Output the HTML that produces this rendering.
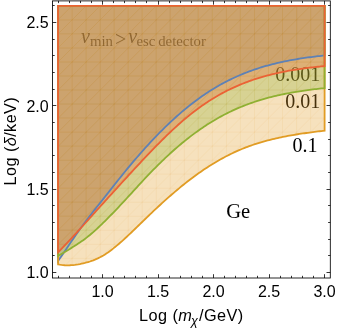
<!DOCTYPE html>
<html><head><meta charset="utf-8"><style>
html,body{margin:0;padding:0;background:#fff;}
svg{display:block;will-change:transform;opacity:0.999}
text{font-family:"Liberation Sans",sans-serif;}
.s{font-family:"Liberation Serif",serif;}
</style></head><body>
<svg width="337" height="331" viewBox="0 0 337 331">
<defs><clipPath id="c_yellow"><path d="M58.08 264.42 L59.76 264.71 L61.43 264.94 L63.11 265.11 L64.78 265.23 L66.46 265.29 L68.14 265.30 L69.81 265.26 L71.49 265.18 L73.17 265.04 L74.84 264.87 L76.52 264.64 L78.19 264.38 L79.87 264.08 L81.55 263.73 L83.22 263.35 L84.90 262.94 L86.58 262.49 L88.25 262.01 L89.93 261.49 L91.60 260.92 L93.28 260.31 L94.96 259.65 L96.63 258.92 L98.31 258.14 L99.99 257.30 L101.66 256.40 L103.34 255.43 L105.01 254.39 L106.69 253.30 L108.37 252.15 L110.04 250.95 L111.72 249.69 L113.40 248.40 L115.07 247.05 L116.75 245.67 L118.42 244.25 L120.10 242.80 L121.78 241.32 L123.45 239.81 L125.13 238.28 L126.81 236.73 L128.48 235.16 L130.16 233.58 L131.83 231.98 L133.51 230.38 L135.19 228.76 L136.86 227.14 L138.54 225.51 L140.22 223.88 L141.89 222.25 L143.57 220.62 L145.24 218.99 L146.92 217.37 L148.60 215.76 L150.27 214.15 L151.95 212.56 L153.62 210.97 L155.30 209.39 L156.98 207.83 L158.65 206.27 L160.33 204.73 L162.01 203.19 L163.68 201.67 L165.36 200.16 L167.03 198.66 L168.71 197.18 L170.39 195.71 L172.06 194.25 L173.74 192.81 L175.42 191.38 L177.09 189.96 L178.77 188.57 L180.44 187.18 L182.12 185.82 L183.80 184.46 L185.47 183.13 L187.15 181.81 L188.83 180.51 L190.50 179.23 L192.18 177.96 L193.85 176.71 L195.53 175.48 L197.21 174.27 L198.88 173.08 L200.56 171.90 L202.24 170.75 L203.91 169.61 L205.59 168.49 L207.26 167.39 L208.94 166.31 L210.62 165.25 L212.29 164.20 L213.97 163.18 L215.65 162.18 L217.32 161.19 L219.00 160.23 L220.67 159.29 L222.35 158.36 L224.03 157.45 L225.70 156.57 L227.38 155.70 L229.06 154.85 L230.73 154.03 L232.41 153.22 L234.08 152.43 L235.76 151.66 L237.44 150.91 L239.11 150.18 L240.79 149.47 L242.46 148.78 L244.14 148.10 L245.82 147.45 L247.49 146.81 L249.17 146.19 L250.85 145.59 L252.52 145.01 L254.20 144.44 L255.87 143.89 L257.55 143.35 L259.23 142.83 L260.90 142.32 L262.58 141.83 L264.26 141.36 L265.93 140.89 L267.61 140.44 L269.28 140.01 L270.96 139.58 L272.64 139.17 L274.31 138.77 L275.99 138.39 L277.67 138.01 L279.34 137.65 L281.02 137.29 L282.69 136.95 L284.37 136.61 L286.05 136.29 L287.72 135.97 L289.40 135.66 L291.08 135.36 L292.75 135.07 L294.43 134.79 L296.10 134.51 L297.78 134.25 L299.46 133.98 L301.13 133.73 L302.81 133.48 L304.49 133.24 L306.16 133.00 L307.84 132.77 L309.51 132.54 L311.19 132.32 L312.87 132.10 L314.54 131.88 L316.22 131.67 L317.90 131.47 L319.57 131.26 L321.25 131.06 L322.92 130.86 L324.60 130.67 L324.60 5.84 L58.08 5.84 Z"/></clipPath><clipPath id="c_green"><path d="M58.08 256.02 L59.76 254.98 L61.43 253.96 L63.11 252.95 L64.78 251.94 L66.46 250.94 L68.14 249.93 L69.81 248.91 L71.49 247.89 L73.17 246.85 L74.84 245.79 L76.52 244.72 L78.19 243.62 L79.87 242.49 L81.55 241.34 L83.22 240.15 L84.90 238.92 L86.58 237.65 L88.25 236.33 L89.93 234.97 L91.60 233.56 L93.28 232.10 L94.96 230.61 L96.63 229.08 L98.31 227.51 L99.99 225.92 L101.66 224.31 L103.34 222.67 L105.01 221.02 L106.69 219.35 L108.37 217.66 L110.04 215.96 L111.72 214.25 L113.40 212.52 L115.07 210.78 L116.75 209.02 L118.42 207.26 L120.10 205.48 L121.78 203.69 L123.45 201.89 L125.13 200.08 L126.81 198.26 L128.48 196.44 L130.16 194.60 L131.83 192.77 L133.51 190.94 L135.19 189.10 L136.86 187.27 L138.54 185.44 L140.22 183.62 L141.89 181.80 L143.57 180.00 L145.24 178.20 L146.92 176.43 L148.60 174.66 L150.27 172.91 L151.95 171.18 L153.62 169.47 L155.30 167.77 L156.98 166.08 L158.65 164.42 L160.33 162.77 L162.01 161.14 L163.68 159.53 L165.36 157.94 L167.03 156.37 L168.71 154.81 L170.39 153.27 L172.06 151.76 L173.74 150.26 L175.42 148.78 L177.09 147.32 L178.77 145.88 L180.44 144.46 L182.12 143.06 L183.80 141.68 L185.47 140.33 L187.15 138.99 L188.83 137.67 L190.50 136.38 L192.18 135.10 L193.85 133.85 L195.53 132.61 L197.21 131.40 L198.88 130.21 L200.56 129.04 L202.24 127.89 L203.91 126.76 L205.59 125.65 L207.26 124.56 L208.94 123.49 L210.62 122.45 L212.29 121.42 L213.97 120.42 L215.65 119.43 L217.32 118.47 L219.00 117.52 L220.67 116.60 L222.35 115.69 L224.03 114.81 L225.70 113.94 L227.38 113.09 L229.06 112.27 L230.73 111.46 L232.41 110.67 L234.08 109.90 L235.76 109.14 L237.44 108.41 L239.11 107.69 L240.79 106.99 L242.46 106.31 L244.14 105.64 L245.82 104.99 L247.49 104.36 L249.17 103.74 L250.85 103.14 L252.52 102.55 L254.20 101.98 L255.87 101.43 L257.55 100.89 L259.23 100.36 L260.90 99.85 L262.58 99.35 L264.26 98.87 L265.93 98.40 L267.61 97.94 L269.28 97.49 L270.96 97.06 L272.64 96.64 L274.31 96.23 L275.99 95.83 L277.67 95.44 L279.34 95.06 L281.02 94.70 L282.69 94.34 L284.37 94.00 L286.05 93.66 L287.72 93.34 L289.40 93.02 L291.08 92.71 L292.75 92.42 L294.43 92.13 L296.10 91.84 L297.78 91.57 L299.46 91.30 L301.13 91.05 L302.81 90.79 L304.49 90.55 L306.16 90.31 L307.84 90.08 L309.51 89.86 L311.19 89.64 L312.87 89.43 L314.54 89.23 L316.22 89.03 L317.90 88.84 L319.57 88.65 L321.25 88.46 L322.92 88.29 L324.60 88.11 L324.60 5.84 L58.08 5.84 Z"/></clipPath><clipPath id="c_red"><path d="M58.08 252.32 L59.76 250.63 L61.43 248.91 L63.11 247.18 L64.78 245.43 L66.46 243.66 L68.14 241.88 L69.81 240.09 L71.49 238.28 L73.17 236.47 L74.84 234.64 L76.52 232.80 L78.19 230.95 L79.87 229.10 L81.55 227.24 L83.22 225.38 L84.90 223.51 L86.58 221.65 L88.25 219.78 L89.93 217.91 L91.60 216.04 L93.28 214.17 L94.96 212.31 L96.63 210.45 L98.31 208.59 L99.99 206.73 L101.66 204.87 L103.34 203.02 L105.01 201.17 L106.69 199.32 L108.37 197.47 L110.04 195.63 L111.72 193.79 L113.40 191.94 L115.07 190.10 L116.75 188.27 L118.42 186.43 L120.10 184.60 L121.78 182.76 L123.45 180.93 L125.13 179.10 L126.81 177.27 L128.48 175.45 L130.16 173.63 L131.83 171.81 L133.51 169.99 L135.19 168.18 L136.86 166.37 L138.54 164.57 L140.22 162.77 L141.89 160.98 L143.57 159.19 L145.24 157.41 L146.92 155.64 L148.60 153.88 L150.27 152.13 L151.95 150.38 L153.62 148.65 L155.30 146.92 L156.98 145.21 L158.65 143.51 L160.33 141.82 L162.01 140.15 L163.68 138.49 L165.36 136.84 L167.03 135.21 L168.71 133.60 L170.39 132.00 L172.06 130.42 L173.74 128.86 L175.42 127.32 L177.09 125.79 L178.77 124.29 L180.44 122.80 L182.12 121.34 L183.80 119.90 L185.47 118.48 L187.15 117.08 L188.83 115.70 L190.50 114.35 L192.18 113.03 L193.85 111.72 L195.53 110.44 L197.21 109.19 L198.88 107.96 L200.56 106.75 L202.24 105.57 L203.91 104.41 L205.59 103.27 L207.26 102.15 L208.94 101.06 L210.62 100.00 L212.29 98.95 L213.97 97.93 L215.65 96.93 L217.32 95.95 L219.00 94.99 L220.67 94.06 L222.35 93.14 L224.03 92.25 L225.70 91.38 L227.38 90.53 L229.06 89.70 L230.73 88.89 L232.41 88.09 L234.08 87.32 L235.76 86.57 L237.44 85.84 L239.11 85.12 L240.79 84.42 L242.46 83.74 L244.14 83.08 L245.82 82.43 L247.49 81.80 L249.17 81.19 L250.85 80.60 L252.52 80.02 L254.20 79.45 L255.87 78.90 L257.55 78.37 L259.23 77.85 L260.90 77.34 L262.58 76.85 L264.26 76.38 L265.93 75.91 L267.61 75.46 L269.28 75.02 L270.96 74.60 L272.64 74.19 L274.31 73.79 L275.99 73.40 L277.67 73.02 L279.34 72.66 L281.02 72.30 L282.69 71.96 L284.37 71.62 L286.05 71.30 L287.72 70.99 L289.40 70.68 L291.08 70.39 L292.75 70.10 L294.43 69.83 L296.10 69.56 L297.78 69.30 L299.46 69.05 L301.13 68.80 L302.81 68.57 L304.49 68.34 L306.16 68.12 L307.84 67.90 L309.51 67.69 L311.19 67.49 L312.87 67.30 L314.54 67.11 L316.22 66.93 L317.90 66.75 L319.57 66.58 L321.25 66.41 L322.92 66.25 L324.60 66.09 L324.60 5.84 L58.08 5.84 Z"/></clipPath></defs>
<rect width="337" height="331" fill="#fff"/>
<g class="s" font-size="20" fill="#000">
<text class="s" y="43"><tspan x="81" font-style="italic">v</tspan><tspan x="89.9" font-size="14.8" dy="3">min</tspan><tspan x="115.1" dy="-0.5">&gt;</tspan><tspan x="128.2" dy="-2.5" font-style="italic">v</tspan><tspan x="136.4" font-size="14.8" dy="3">esc</tspan><tspan x="158.2" font-size="14.8">detector</tspan></text>
<text class="s" x="275.3" y="80.5">0.001</text>
<text class="s" x="285.3" y="108.4">0.01</text>
<text class="s" x="292.5" y="152">0.1</text>
<text class="s" x="226.2" y="217.6" font-size="20.6">Ge</text>
</g>
<path d="M58.08 261.02 L59.76 258.59 L61.43 256.15 L63.11 253.68 L64.78 251.21 L66.46 248.73 L68.14 246.25 L69.81 243.77 L71.49 241.31 L73.17 238.87 L74.84 236.45 L76.52 234.05 L78.19 231.68 L79.87 229.34 L81.55 227.03 L83.22 224.74 L84.90 222.48 L86.58 220.25 L88.25 218.04 L89.93 215.85 L91.60 213.69 L93.28 211.55 L94.96 209.42 L96.63 207.30 L98.31 205.19 L99.99 203.09 L101.66 200.98 L103.34 198.87 L105.01 196.75 L106.69 194.63 L108.37 192.51 L110.04 190.38 L111.72 188.26 L113.40 186.13 L115.07 184.01 L116.75 181.90 L118.42 179.79 L120.10 177.69 L121.78 175.60 L123.45 173.52 L125.13 171.46 L126.81 169.41 L128.48 167.38 L130.16 165.37 L131.83 163.37 L133.51 161.39 L135.19 159.42 L136.86 157.47 L138.54 155.54 L140.22 153.62 L141.89 151.72 L143.57 149.84 L145.24 147.97 L146.92 146.12 L148.60 144.29 L150.27 142.48 L151.95 140.68 L153.62 138.90 L155.30 137.14 L156.98 135.40 L158.65 133.68 L160.33 131.97 L162.01 130.29 L163.68 128.63 L165.36 126.98 L167.03 125.36 L168.71 123.75 L170.39 122.17 L172.06 120.60 L173.74 119.06 L175.42 117.54 L177.09 116.04 L178.77 114.56 L180.44 113.10 L182.12 111.66 L183.80 110.24 L185.47 108.85 L187.15 107.48 L188.83 106.13 L190.50 104.80 L192.18 103.49 L193.85 102.20 L195.53 100.94 L197.21 99.70 L198.88 98.48 L200.56 97.28 L202.24 96.10 L203.91 94.95 L205.59 93.81 L207.26 92.70 L208.94 91.61 L210.62 90.54 L212.29 89.49 L213.97 88.47 L215.65 87.46 L217.32 86.47 L219.00 85.51 L220.67 84.57 L222.35 83.64 L224.03 82.74 L225.70 81.86 L227.38 80.99 L229.06 80.15 L230.73 79.32 L232.41 78.52 L234.08 77.73 L235.76 76.96 L237.44 76.21 L239.11 75.48 L240.79 74.76 L242.46 74.06 L244.14 73.38 L245.82 72.72 L247.49 72.07 L249.17 71.44 L250.85 70.83 L252.52 70.23 L254.20 69.65 L255.87 69.08 L257.55 68.53 L259.23 67.99 L260.90 67.47 L262.58 66.96 L264.26 66.46 L265.93 65.98 L267.61 65.51 L269.28 65.05 L270.96 64.61 L272.64 64.18 L274.31 63.76 L275.99 63.35 L277.67 62.95 L279.34 62.57 L281.02 62.19 L282.69 61.83 L284.37 61.48 L286.05 61.13 L287.72 60.80 L289.40 60.48 L291.08 60.16 L292.75 59.86 L294.43 59.56 L296.10 59.27 L297.78 58.99 L299.46 58.72 L301.13 58.46 L302.81 58.20 L304.49 57.95 L306.16 57.71 L307.84 57.48 L309.51 57.25 L311.19 57.03 L312.87 56.82 L314.54 56.61 L316.22 56.41 L317.90 56.21 L319.57 56.02 L321.25 55.84 L322.92 55.66 L324.60 55.49 L324.60 5.84 L58.08 5.84 Z" fill="#5E81B5" fill-opacity="0.3" stroke="none"/><path d="M58.08 264.42 L59.76 264.71 L61.43 264.94 L63.11 265.11 L64.78 265.23 L66.46 265.29 L68.14 265.30 L69.81 265.26 L71.49 265.18 L73.17 265.04 L74.84 264.87 L76.52 264.64 L78.19 264.38 L79.87 264.08 L81.55 263.73 L83.22 263.35 L84.90 262.94 L86.58 262.49 L88.25 262.01 L89.93 261.49 L91.60 260.92 L93.28 260.31 L94.96 259.65 L96.63 258.92 L98.31 258.14 L99.99 257.30 L101.66 256.40 L103.34 255.43 L105.01 254.39 L106.69 253.30 L108.37 252.15 L110.04 250.95 L111.72 249.69 L113.40 248.40 L115.07 247.05 L116.75 245.67 L118.42 244.25 L120.10 242.80 L121.78 241.32 L123.45 239.81 L125.13 238.28 L126.81 236.73 L128.48 235.16 L130.16 233.58 L131.83 231.98 L133.51 230.38 L135.19 228.76 L136.86 227.14 L138.54 225.51 L140.22 223.88 L141.89 222.25 L143.57 220.62 L145.24 218.99 L146.92 217.37 L148.60 215.76 L150.27 214.15 L151.95 212.56 L153.62 210.97 L155.30 209.39 L156.98 207.83 L158.65 206.27 L160.33 204.73 L162.01 203.19 L163.68 201.67 L165.36 200.16 L167.03 198.66 L168.71 197.18 L170.39 195.71 L172.06 194.25 L173.74 192.81 L175.42 191.38 L177.09 189.96 L178.77 188.57 L180.44 187.18 L182.12 185.82 L183.80 184.46 L185.47 183.13 L187.15 181.81 L188.83 180.51 L190.50 179.23 L192.18 177.96 L193.85 176.71 L195.53 175.48 L197.21 174.27 L198.88 173.08 L200.56 171.90 L202.24 170.75 L203.91 169.61 L205.59 168.49 L207.26 167.39 L208.94 166.31 L210.62 165.25 L212.29 164.20 L213.97 163.18 L215.65 162.18 L217.32 161.19 L219.00 160.23 L220.67 159.29 L222.35 158.36 L224.03 157.45 L225.70 156.57 L227.38 155.70 L229.06 154.85 L230.73 154.03 L232.41 153.22 L234.08 152.43 L235.76 151.66 L237.44 150.91 L239.11 150.18 L240.79 149.47 L242.46 148.78 L244.14 148.10 L245.82 147.45 L247.49 146.81 L249.17 146.19 L250.85 145.59 L252.52 145.01 L254.20 144.44 L255.87 143.89 L257.55 143.35 L259.23 142.83 L260.90 142.32 L262.58 141.83 L264.26 141.36 L265.93 140.89 L267.61 140.44 L269.28 140.01 L270.96 139.58 L272.64 139.17 L274.31 138.77 L275.99 138.39 L277.67 138.01 L279.34 137.65 L281.02 137.29 L282.69 136.95 L284.37 136.61 L286.05 136.29 L287.72 135.97 L289.40 135.66 L291.08 135.36 L292.75 135.07 L294.43 134.79 L296.10 134.51 L297.78 134.25 L299.46 133.98 L301.13 133.73 L302.81 133.48 L304.49 133.24 L306.16 133.00 L307.84 132.77 L309.51 132.54 L311.19 132.32 L312.87 132.10 L314.54 131.88 L316.22 131.67 L317.90 131.47 L319.57 131.26 L321.25 131.06 L322.92 130.86 L324.60 130.67 L324.60 5.84 L58.08 5.84 Z" fill="#E19C24" fill-opacity="0.3" stroke="none"/><path d="M58.08 256.02 L59.76 254.98 L61.43 253.96 L63.11 252.95 L64.78 251.94 L66.46 250.94 L68.14 249.93 L69.81 248.91 L71.49 247.89 L73.17 246.85 L74.84 245.79 L76.52 244.72 L78.19 243.62 L79.87 242.49 L81.55 241.34 L83.22 240.15 L84.90 238.92 L86.58 237.65 L88.25 236.33 L89.93 234.97 L91.60 233.56 L93.28 232.10 L94.96 230.61 L96.63 229.08 L98.31 227.51 L99.99 225.92 L101.66 224.31 L103.34 222.67 L105.01 221.02 L106.69 219.35 L108.37 217.66 L110.04 215.96 L111.72 214.25 L113.40 212.52 L115.07 210.78 L116.75 209.02 L118.42 207.26 L120.10 205.48 L121.78 203.69 L123.45 201.89 L125.13 200.08 L126.81 198.26 L128.48 196.44 L130.16 194.60 L131.83 192.77 L133.51 190.94 L135.19 189.10 L136.86 187.27 L138.54 185.44 L140.22 183.62 L141.89 181.80 L143.57 180.00 L145.24 178.20 L146.92 176.43 L148.60 174.66 L150.27 172.91 L151.95 171.18 L153.62 169.47 L155.30 167.77 L156.98 166.08 L158.65 164.42 L160.33 162.77 L162.01 161.14 L163.68 159.53 L165.36 157.94 L167.03 156.37 L168.71 154.81 L170.39 153.27 L172.06 151.76 L173.74 150.26 L175.42 148.78 L177.09 147.32 L178.77 145.88 L180.44 144.46 L182.12 143.06 L183.80 141.68 L185.47 140.33 L187.15 138.99 L188.83 137.67 L190.50 136.38 L192.18 135.10 L193.85 133.85 L195.53 132.61 L197.21 131.40 L198.88 130.21 L200.56 129.04 L202.24 127.89 L203.91 126.76 L205.59 125.65 L207.26 124.56 L208.94 123.49 L210.62 122.45 L212.29 121.42 L213.97 120.42 L215.65 119.43 L217.32 118.47 L219.00 117.52 L220.67 116.60 L222.35 115.69 L224.03 114.81 L225.70 113.94 L227.38 113.09 L229.06 112.27 L230.73 111.46 L232.41 110.67 L234.08 109.90 L235.76 109.14 L237.44 108.41 L239.11 107.69 L240.79 106.99 L242.46 106.31 L244.14 105.64 L245.82 104.99 L247.49 104.36 L249.17 103.74 L250.85 103.14 L252.52 102.55 L254.20 101.98 L255.87 101.43 L257.55 100.89 L259.23 100.36 L260.90 99.85 L262.58 99.35 L264.26 98.87 L265.93 98.40 L267.61 97.94 L269.28 97.49 L270.96 97.06 L272.64 96.64 L274.31 96.23 L275.99 95.83 L277.67 95.44 L279.34 95.06 L281.02 94.70 L282.69 94.34 L284.37 94.00 L286.05 93.66 L287.72 93.34 L289.40 93.02 L291.08 92.71 L292.75 92.42 L294.43 92.13 L296.10 91.84 L297.78 91.57 L299.46 91.30 L301.13 91.05 L302.81 90.79 L304.49 90.55 L306.16 90.31 L307.84 90.08 L309.51 89.86 L311.19 89.64 L312.87 89.43 L314.54 89.23 L316.22 89.03 L317.90 88.84 L319.57 88.65 L321.25 88.46 L322.92 88.29 L324.60 88.11 L324.60 5.84 L58.08 5.84 Z" fill="#8FB032" fill-opacity="0.3" stroke="none"/><path d="M58.08 252.32 L59.76 250.63 L61.43 248.91 L63.11 247.18 L64.78 245.43 L66.46 243.66 L68.14 241.88 L69.81 240.09 L71.49 238.28 L73.17 236.47 L74.84 234.64 L76.52 232.80 L78.19 230.95 L79.87 229.10 L81.55 227.24 L83.22 225.38 L84.90 223.51 L86.58 221.65 L88.25 219.78 L89.93 217.91 L91.60 216.04 L93.28 214.17 L94.96 212.31 L96.63 210.45 L98.31 208.59 L99.99 206.73 L101.66 204.87 L103.34 203.02 L105.01 201.17 L106.69 199.32 L108.37 197.47 L110.04 195.63 L111.72 193.79 L113.40 191.94 L115.07 190.10 L116.75 188.27 L118.42 186.43 L120.10 184.60 L121.78 182.76 L123.45 180.93 L125.13 179.10 L126.81 177.27 L128.48 175.45 L130.16 173.63 L131.83 171.81 L133.51 169.99 L135.19 168.18 L136.86 166.37 L138.54 164.57 L140.22 162.77 L141.89 160.98 L143.57 159.19 L145.24 157.41 L146.92 155.64 L148.60 153.88 L150.27 152.13 L151.95 150.38 L153.62 148.65 L155.30 146.92 L156.98 145.21 L158.65 143.51 L160.33 141.82 L162.01 140.15 L163.68 138.49 L165.36 136.84 L167.03 135.21 L168.71 133.60 L170.39 132.00 L172.06 130.42 L173.74 128.86 L175.42 127.32 L177.09 125.79 L178.77 124.29 L180.44 122.80 L182.12 121.34 L183.80 119.90 L185.47 118.48 L187.15 117.08 L188.83 115.70 L190.50 114.35 L192.18 113.03 L193.85 111.72 L195.53 110.44 L197.21 109.19 L198.88 107.96 L200.56 106.75 L202.24 105.57 L203.91 104.41 L205.59 103.27 L207.26 102.15 L208.94 101.06 L210.62 100.00 L212.29 98.95 L213.97 97.93 L215.65 96.93 L217.32 95.95 L219.00 94.99 L220.67 94.06 L222.35 93.14 L224.03 92.25 L225.70 91.38 L227.38 90.53 L229.06 89.70 L230.73 88.89 L232.41 88.09 L234.08 87.32 L235.76 86.57 L237.44 85.84 L239.11 85.12 L240.79 84.42 L242.46 83.74 L244.14 83.08 L245.82 82.43 L247.49 81.80 L249.17 81.19 L250.85 80.60 L252.52 80.02 L254.20 79.45 L255.87 78.90 L257.55 78.37 L259.23 77.85 L260.90 77.34 L262.58 76.85 L264.26 76.38 L265.93 75.91 L267.61 75.46 L269.28 75.02 L270.96 74.60 L272.64 74.19 L274.31 73.79 L275.99 73.40 L277.67 73.02 L279.34 72.66 L281.02 72.30 L282.69 71.96 L284.37 71.62 L286.05 71.30 L287.72 70.99 L289.40 70.68 L291.08 70.39 L292.75 70.10 L294.43 69.83 L296.10 69.56 L297.78 69.30 L299.46 69.05 L301.13 68.80 L302.81 68.57 L304.49 68.34 L306.16 68.12 L307.84 67.90 L309.51 67.69 L311.19 67.49 L312.87 67.30 L314.54 67.11 L316.22 66.93 L317.90 66.75 L319.57 66.58 L321.25 66.41 L322.92 66.25 L324.60 66.09 L324.60 5.84 L58.08 5.84 Z" fill="#EB6235" fill-opacity="0.3" stroke="none"/>
<path id="mesh" d="M72.11 5.84 V272.40 M58.08 19.87 H324.60 M86.13 5.84 V272.40 M58.08 33.90 H324.60 M100.16 5.84 V272.40 M58.08 47.93 H324.60 M114.19 5.84 V272.40 M58.08 61.96 H324.60 M128.22 5.84 V272.40 M58.08 75.99 H324.60 M142.24 5.84 V272.40 M58.08 90.02 H324.60 M156.27 5.84 V272.40 M58.08 104.05 H324.60 M170.30 5.84 V272.40 M58.08 118.08 H324.60 M184.33 5.84 V272.40 M58.08 132.11 H324.60 M198.35 5.84 V272.40 M58.08 146.13 H324.60 M212.38 5.84 V272.40 M58.08 160.16 H324.60 M226.41 5.84 V272.40 M58.08 174.19 H324.60 M240.44 5.84 V272.40 M58.08 188.22 H324.60 M254.46 5.84 V272.40 M58.08 202.25 H324.60 M268.49 5.84 V272.40 M58.08 216.28 H324.60 M282.52 5.84 V272.40 M58.08 230.31 H324.60 M296.55 5.84 V272.40 M58.08 244.34 H324.60 M310.57 5.84 V272.40 M58.08 258.37 H324.60 M-194.41 272.40 L72.11 5.84 M-180.39 272.40 L86.13 5.84 M-166.36 272.40 L100.16 5.84 M-152.33 272.40 L114.19 5.84 M-138.30 272.40 L128.22 5.84 M-124.28 272.40 L142.24 5.84 M-110.25 272.40 L156.27 5.84 M-96.22 272.40 L170.30 5.84 M-82.19 272.40 L184.33 5.84 M-68.17 272.40 L198.35 5.84 M-54.14 272.40 L212.38 5.84 M-40.11 272.40 L226.41 5.84 M-26.08 272.40 L240.44 5.84 M-12.06 272.40 L254.46 5.84 M1.97 272.40 L268.49 5.84 M16.00 272.40 L282.52 5.84 M30.03 272.40 L296.55 5.84 M44.05 272.40 L310.57 5.84 M58.08 272.40 L324.60 5.84 M72.11 272.40 L338.63 5.84 M86.13 272.40 L352.65 5.84 M100.16 272.40 L366.68 5.84 M114.19 272.40 L380.71 5.84 M128.22 272.40 L394.74 5.84 M142.24 272.40 L408.76 5.84 M156.27 272.40 L422.79 5.84 M170.30 272.40 L436.82 5.84 M184.33 272.40 L450.85 5.84 M198.35 272.40 L464.87 5.84 M212.38 272.40 L478.90 5.84 M226.41 272.40 L492.93 5.84 M240.44 272.40 L506.96 5.84 M254.46 272.40 L520.98 5.84 M268.49 272.40 L535.01 5.84 M282.52 272.40 L549.04 5.84 M296.55 272.40 L563.07 5.84 M310.57 272.40 L577.09 5.84" fill="none" stroke-width="0.8" clip-path="url(#c_yellow)" stroke="#E19C24" stroke-opacity="0.1"/><path d="M72.11 5.84 V272.40 M58.08 19.87 H324.60 M86.13 5.84 V272.40 M58.08 33.90 H324.60 M100.16 5.84 V272.40 M58.08 47.93 H324.60 M114.19 5.84 V272.40 M58.08 61.96 H324.60 M128.22 5.84 V272.40 M58.08 75.99 H324.60 M142.24 5.84 V272.40 M58.08 90.02 H324.60 M156.27 5.84 V272.40 M58.08 104.05 H324.60 M170.30 5.84 V272.40 M58.08 118.08 H324.60 M184.33 5.84 V272.40 M58.08 132.11 H324.60 M198.35 5.84 V272.40 M58.08 146.13 H324.60 M212.38 5.84 V272.40 M58.08 160.16 H324.60 M226.41 5.84 V272.40 M58.08 174.19 H324.60 M240.44 5.84 V272.40 M58.08 188.22 H324.60 M254.46 5.84 V272.40 M58.08 202.25 H324.60 M268.49 5.84 V272.40 M58.08 216.28 H324.60 M282.52 5.84 V272.40 M58.08 230.31 H324.60 M296.55 5.84 V272.40 M58.08 244.34 H324.60 M310.57 5.84 V272.40 M58.08 258.37 H324.60 M-194.41 272.40 L72.11 5.84 M-180.39 272.40 L86.13 5.84 M-166.36 272.40 L100.16 5.84 M-152.33 272.40 L114.19 5.84 M-138.30 272.40 L128.22 5.84 M-124.28 272.40 L142.24 5.84 M-110.25 272.40 L156.27 5.84 M-96.22 272.40 L170.30 5.84 M-82.19 272.40 L184.33 5.84 M-68.17 272.40 L198.35 5.84 M-54.14 272.40 L212.38 5.84 M-40.11 272.40 L226.41 5.84 M-26.08 272.40 L240.44 5.84 M-12.06 272.40 L254.46 5.84 M1.97 272.40 L268.49 5.84 M16.00 272.40 L282.52 5.84 M30.03 272.40 L296.55 5.84 M44.05 272.40 L310.57 5.84 M58.08 272.40 L324.60 5.84 M72.11 272.40 L338.63 5.84 M86.13 272.40 L352.65 5.84 M100.16 272.40 L366.68 5.84 M114.19 272.40 L380.71 5.84 M128.22 272.40 L394.74 5.84 M142.24 272.40 L408.76 5.84 M156.27 272.40 L422.79 5.84 M170.30 272.40 L436.82 5.84 M184.33 272.40 L450.85 5.84 M198.35 272.40 L464.87 5.84 M212.38 272.40 L478.90 5.84 M226.41 272.40 L492.93 5.84 M240.44 272.40 L506.96 5.84 M254.46 272.40 L520.98 5.84 M268.49 272.40 L535.01 5.84 M282.52 272.40 L549.04 5.84 M296.55 272.40 L563.07 5.84 M310.57 272.40 L577.09 5.84" fill="none" stroke-width="0.8" clip-path="url(#c_green)" stroke="#8FB032" stroke-opacity="0.1"/><path d="M72.11 5.84 V272.40 M58.08 19.87 H324.60 M86.13 5.84 V272.40 M58.08 33.90 H324.60 M100.16 5.84 V272.40 M58.08 47.93 H324.60 M114.19 5.84 V272.40 M58.08 61.96 H324.60 M128.22 5.84 V272.40 M58.08 75.99 H324.60 M142.24 5.84 V272.40 M58.08 90.02 H324.60 M156.27 5.84 V272.40 M58.08 104.05 H324.60 M170.30 5.84 V272.40 M58.08 118.08 H324.60 M184.33 5.84 V272.40 M58.08 132.11 H324.60 M198.35 5.84 V272.40 M58.08 146.13 H324.60 M212.38 5.84 V272.40 M58.08 160.16 H324.60 M226.41 5.84 V272.40 M58.08 174.19 H324.60 M240.44 5.84 V272.40 M58.08 188.22 H324.60 M254.46 5.84 V272.40 M58.08 202.25 H324.60 M268.49 5.84 V272.40 M58.08 216.28 H324.60 M282.52 5.84 V272.40 M58.08 230.31 H324.60 M296.55 5.84 V272.40 M58.08 244.34 H324.60 M310.57 5.84 V272.40 M58.08 258.37 H324.60 M-194.41 272.40 L72.11 5.84 M-180.39 272.40 L86.13 5.84 M-166.36 272.40 L100.16 5.84 M-152.33 272.40 L114.19 5.84 M-138.30 272.40 L128.22 5.84 M-124.28 272.40 L142.24 5.84 M-110.25 272.40 L156.27 5.84 M-96.22 272.40 L170.30 5.84 M-82.19 272.40 L184.33 5.84 M-68.17 272.40 L198.35 5.84 M-54.14 272.40 L212.38 5.84 M-40.11 272.40 L226.41 5.84 M-26.08 272.40 L240.44 5.84 M-12.06 272.40 L254.46 5.84 M1.97 272.40 L268.49 5.84 M16.00 272.40 L282.52 5.84 M30.03 272.40 L296.55 5.84 M44.05 272.40 L310.57 5.84 M58.08 272.40 L324.60 5.84 M72.11 272.40 L338.63 5.84 M86.13 272.40 L352.65 5.84 M100.16 272.40 L366.68 5.84 M114.19 272.40 L380.71 5.84 M128.22 272.40 L394.74 5.84 M142.24 272.40 L408.76 5.84 M156.27 272.40 L422.79 5.84 M170.30 272.40 L436.82 5.84 M184.33 272.40 L450.85 5.84 M198.35 272.40 L464.87 5.84 M212.38 272.40 L478.90 5.84 M226.41 272.40 L492.93 5.84 M240.44 272.40 L506.96 5.84 M254.46 272.40 L520.98 5.84 M268.49 272.40 L535.01 5.84 M282.52 272.40 L549.04 5.84 M296.55 272.40 L563.07 5.84 M310.57 272.40 L577.09 5.84" fill="none" stroke-width="0.8" clip-path="url(#c_red)" stroke="#EB6235" stroke-opacity="0.1"/>
<path d="M58.08 261.02 L59.76 258.59 L61.43 256.15 L63.11 253.68 L64.78 251.21 L66.46 248.73 L68.14 246.25 L69.81 243.77 L71.49 241.31 L73.17 238.87 L74.84 236.45 L76.52 234.05 L78.19 231.68 L79.87 229.34 L81.55 227.03 L83.22 224.74 L84.90 222.48 L86.58 220.25 L88.25 218.04 L89.93 215.85 L91.60 213.69 L93.28 211.55 L94.96 209.42 L96.63 207.30 L98.31 205.19 L99.99 203.09 L101.66 200.98 L103.34 198.87 L105.01 196.75 L106.69 194.63 L108.37 192.51 L110.04 190.38 L111.72 188.26 L113.40 186.13 L115.07 184.01 L116.75 181.90 L118.42 179.79 L120.10 177.69 L121.78 175.60 L123.45 173.52 L125.13 171.46 L126.81 169.41 L128.48 167.38 L130.16 165.37 L131.83 163.37 L133.51 161.39 L135.19 159.42 L136.86 157.47 L138.54 155.54 L140.22 153.62 L141.89 151.72 L143.57 149.84 L145.24 147.97 L146.92 146.12 L148.60 144.29 L150.27 142.48 L151.95 140.68 L153.62 138.90 L155.30 137.14 L156.98 135.40 L158.65 133.68 L160.33 131.97 L162.01 130.29 L163.68 128.63 L165.36 126.98 L167.03 125.36 L168.71 123.75 L170.39 122.17 L172.06 120.60 L173.74 119.06 L175.42 117.54 L177.09 116.04 L178.77 114.56 L180.44 113.10 L182.12 111.66 L183.80 110.24 L185.47 108.85 L187.15 107.48 L188.83 106.13 L190.50 104.80 L192.18 103.49 L193.85 102.20 L195.53 100.94 L197.21 99.70 L198.88 98.48 L200.56 97.28 L202.24 96.10 L203.91 94.95 L205.59 93.81 L207.26 92.70 L208.94 91.61 L210.62 90.54 L212.29 89.49 L213.97 88.47 L215.65 87.46 L217.32 86.47 L219.00 85.51 L220.67 84.57 L222.35 83.64 L224.03 82.74 L225.70 81.86 L227.38 80.99 L229.06 80.15 L230.73 79.32 L232.41 78.52 L234.08 77.73 L235.76 76.96 L237.44 76.21 L239.11 75.48 L240.79 74.76 L242.46 74.06 L244.14 73.38 L245.82 72.72 L247.49 72.07 L249.17 71.44 L250.85 70.83 L252.52 70.23 L254.20 69.65 L255.87 69.08 L257.55 68.53 L259.23 67.99 L260.90 67.47 L262.58 66.96 L264.26 66.46 L265.93 65.98 L267.61 65.51 L269.28 65.05 L270.96 64.61 L272.64 64.18 L274.31 63.76 L275.99 63.35 L277.67 62.95 L279.34 62.57 L281.02 62.19 L282.69 61.83 L284.37 61.48 L286.05 61.13 L287.72 60.80 L289.40 60.48 L291.08 60.16 L292.75 59.86 L294.43 59.56 L296.10 59.27 L297.78 58.99 L299.46 58.72 L301.13 58.46 L302.81 58.20 L304.49 57.95 L306.16 57.71 L307.84 57.48 L309.51 57.25 L311.19 57.03 L312.87 56.82 L314.54 56.61 L316.22 56.41 L317.90 56.21 L319.57 56.02 L321.25 55.84 L322.92 55.66 L324.60 55.49 L324.60 5.84 L58.08 5.84 Z" fill="none" stroke="#5E81B5" stroke-width="1.8" stroke-linejoin="miter"/><path d="M58.08 264.42 L59.76 264.71 L61.43 264.94 L63.11 265.11 L64.78 265.23 L66.46 265.29 L68.14 265.30 L69.81 265.26 L71.49 265.18 L73.17 265.04 L74.84 264.87 L76.52 264.64 L78.19 264.38 L79.87 264.08 L81.55 263.73 L83.22 263.35 L84.90 262.94 L86.58 262.49 L88.25 262.01 L89.93 261.49 L91.60 260.92 L93.28 260.31 L94.96 259.65 L96.63 258.92 L98.31 258.14 L99.99 257.30 L101.66 256.40 L103.34 255.43 L105.01 254.39 L106.69 253.30 L108.37 252.15 L110.04 250.95 L111.72 249.69 L113.40 248.40 L115.07 247.05 L116.75 245.67 L118.42 244.25 L120.10 242.80 L121.78 241.32 L123.45 239.81 L125.13 238.28 L126.81 236.73 L128.48 235.16 L130.16 233.58 L131.83 231.98 L133.51 230.38 L135.19 228.76 L136.86 227.14 L138.54 225.51 L140.22 223.88 L141.89 222.25 L143.57 220.62 L145.24 218.99 L146.92 217.37 L148.60 215.76 L150.27 214.15 L151.95 212.56 L153.62 210.97 L155.30 209.39 L156.98 207.83 L158.65 206.27 L160.33 204.73 L162.01 203.19 L163.68 201.67 L165.36 200.16 L167.03 198.66 L168.71 197.18 L170.39 195.71 L172.06 194.25 L173.74 192.81 L175.42 191.38 L177.09 189.96 L178.77 188.57 L180.44 187.18 L182.12 185.82 L183.80 184.46 L185.47 183.13 L187.15 181.81 L188.83 180.51 L190.50 179.23 L192.18 177.96 L193.85 176.71 L195.53 175.48 L197.21 174.27 L198.88 173.08 L200.56 171.90 L202.24 170.75 L203.91 169.61 L205.59 168.49 L207.26 167.39 L208.94 166.31 L210.62 165.25 L212.29 164.20 L213.97 163.18 L215.65 162.18 L217.32 161.19 L219.00 160.23 L220.67 159.29 L222.35 158.36 L224.03 157.45 L225.70 156.57 L227.38 155.70 L229.06 154.85 L230.73 154.03 L232.41 153.22 L234.08 152.43 L235.76 151.66 L237.44 150.91 L239.11 150.18 L240.79 149.47 L242.46 148.78 L244.14 148.10 L245.82 147.45 L247.49 146.81 L249.17 146.19 L250.85 145.59 L252.52 145.01 L254.20 144.44 L255.87 143.89 L257.55 143.35 L259.23 142.83 L260.90 142.32 L262.58 141.83 L264.26 141.36 L265.93 140.89 L267.61 140.44 L269.28 140.01 L270.96 139.58 L272.64 139.17 L274.31 138.77 L275.99 138.39 L277.67 138.01 L279.34 137.65 L281.02 137.29 L282.69 136.95 L284.37 136.61 L286.05 136.29 L287.72 135.97 L289.40 135.66 L291.08 135.36 L292.75 135.07 L294.43 134.79 L296.10 134.51 L297.78 134.25 L299.46 133.98 L301.13 133.73 L302.81 133.48 L304.49 133.24 L306.16 133.00 L307.84 132.77 L309.51 132.54 L311.19 132.32 L312.87 132.10 L314.54 131.88 L316.22 131.67 L317.90 131.47 L319.57 131.26 L321.25 131.06 L322.92 130.86 L324.60 130.67 L324.60 5.84 L58.08 5.84 Z" fill="none" stroke="#E19C24" stroke-width="1.8" stroke-linejoin="miter"/><path d="M58.08 256.02 L59.76 254.98 L61.43 253.96 L63.11 252.95 L64.78 251.94 L66.46 250.94 L68.14 249.93 L69.81 248.91 L71.49 247.89 L73.17 246.85 L74.84 245.79 L76.52 244.72 L78.19 243.62 L79.87 242.49 L81.55 241.34 L83.22 240.15 L84.90 238.92 L86.58 237.65 L88.25 236.33 L89.93 234.97 L91.60 233.56 L93.28 232.10 L94.96 230.61 L96.63 229.08 L98.31 227.51 L99.99 225.92 L101.66 224.31 L103.34 222.67 L105.01 221.02 L106.69 219.35 L108.37 217.66 L110.04 215.96 L111.72 214.25 L113.40 212.52 L115.07 210.78 L116.75 209.02 L118.42 207.26 L120.10 205.48 L121.78 203.69 L123.45 201.89 L125.13 200.08 L126.81 198.26 L128.48 196.44 L130.16 194.60 L131.83 192.77 L133.51 190.94 L135.19 189.10 L136.86 187.27 L138.54 185.44 L140.22 183.62 L141.89 181.80 L143.57 180.00 L145.24 178.20 L146.92 176.43 L148.60 174.66 L150.27 172.91 L151.95 171.18 L153.62 169.47 L155.30 167.77 L156.98 166.08 L158.65 164.42 L160.33 162.77 L162.01 161.14 L163.68 159.53 L165.36 157.94 L167.03 156.37 L168.71 154.81 L170.39 153.27 L172.06 151.76 L173.74 150.26 L175.42 148.78 L177.09 147.32 L178.77 145.88 L180.44 144.46 L182.12 143.06 L183.80 141.68 L185.47 140.33 L187.15 138.99 L188.83 137.67 L190.50 136.38 L192.18 135.10 L193.85 133.85 L195.53 132.61 L197.21 131.40 L198.88 130.21 L200.56 129.04 L202.24 127.89 L203.91 126.76 L205.59 125.65 L207.26 124.56 L208.94 123.49 L210.62 122.45 L212.29 121.42 L213.97 120.42 L215.65 119.43 L217.32 118.47 L219.00 117.52 L220.67 116.60 L222.35 115.69 L224.03 114.81 L225.70 113.94 L227.38 113.09 L229.06 112.27 L230.73 111.46 L232.41 110.67 L234.08 109.90 L235.76 109.14 L237.44 108.41 L239.11 107.69 L240.79 106.99 L242.46 106.31 L244.14 105.64 L245.82 104.99 L247.49 104.36 L249.17 103.74 L250.85 103.14 L252.52 102.55 L254.20 101.98 L255.87 101.43 L257.55 100.89 L259.23 100.36 L260.90 99.85 L262.58 99.35 L264.26 98.87 L265.93 98.40 L267.61 97.94 L269.28 97.49 L270.96 97.06 L272.64 96.64 L274.31 96.23 L275.99 95.83 L277.67 95.44 L279.34 95.06 L281.02 94.70 L282.69 94.34 L284.37 94.00 L286.05 93.66 L287.72 93.34 L289.40 93.02 L291.08 92.71 L292.75 92.42 L294.43 92.13 L296.10 91.84 L297.78 91.57 L299.46 91.30 L301.13 91.05 L302.81 90.79 L304.49 90.55 L306.16 90.31 L307.84 90.08 L309.51 89.86 L311.19 89.64 L312.87 89.43 L314.54 89.23 L316.22 89.03 L317.90 88.84 L319.57 88.65 L321.25 88.46 L322.92 88.29 L324.60 88.11 L324.60 5.84 L58.08 5.84 Z" fill="none" stroke="#8FB032" stroke-width="1.8" stroke-linejoin="miter"/><path d="M58.08 252.32 L59.76 250.63 L61.43 248.91 L63.11 247.18 L64.78 245.43 L66.46 243.66 L68.14 241.88 L69.81 240.09 L71.49 238.28 L73.17 236.47 L74.84 234.64 L76.52 232.80 L78.19 230.95 L79.87 229.10 L81.55 227.24 L83.22 225.38 L84.90 223.51 L86.58 221.65 L88.25 219.78 L89.93 217.91 L91.60 216.04 L93.28 214.17 L94.96 212.31 L96.63 210.45 L98.31 208.59 L99.99 206.73 L101.66 204.87 L103.34 203.02 L105.01 201.17 L106.69 199.32 L108.37 197.47 L110.04 195.63 L111.72 193.79 L113.40 191.94 L115.07 190.10 L116.75 188.27 L118.42 186.43 L120.10 184.60 L121.78 182.76 L123.45 180.93 L125.13 179.10 L126.81 177.27 L128.48 175.45 L130.16 173.63 L131.83 171.81 L133.51 169.99 L135.19 168.18 L136.86 166.37 L138.54 164.57 L140.22 162.77 L141.89 160.98 L143.57 159.19 L145.24 157.41 L146.92 155.64 L148.60 153.88 L150.27 152.13 L151.95 150.38 L153.62 148.65 L155.30 146.92 L156.98 145.21 L158.65 143.51 L160.33 141.82 L162.01 140.15 L163.68 138.49 L165.36 136.84 L167.03 135.21 L168.71 133.60 L170.39 132.00 L172.06 130.42 L173.74 128.86 L175.42 127.32 L177.09 125.79 L178.77 124.29 L180.44 122.80 L182.12 121.34 L183.80 119.90 L185.47 118.48 L187.15 117.08 L188.83 115.70 L190.50 114.35 L192.18 113.03 L193.85 111.72 L195.53 110.44 L197.21 109.19 L198.88 107.96 L200.56 106.75 L202.24 105.57 L203.91 104.41 L205.59 103.27 L207.26 102.15 L208.94 101.06 L210.62 100.00 L212.29 98.95 L213.97 97.93 L215.65 96.93 L217.32 95.95 L219.00 94.99 L220.67 94.06 L222.35 93.14 L224.03 92.25 L225.70 91.38 L227.38 90.53 L229.06 89.70 L230.73 88.89 L232.41 88.09 L234.08 87.32 L235.76 86.57 L237.44 85.84 L239.11 85.12 L240.79 84.42 L242.46 83.74 L244.14 83.08 L245.82 82.43 L247.49 81.80 L249.17 81.19 L250.85 80.60 L252.52 80.02 L254.20 79.45 L255.87 78.90 L257.55 78.37 L259.23 77.85 L260.90 77.34 L262.58 76.85 L264.26 76.38 L265.93 75.91 L267.61 75.46 L269.28 75.02 L270.96 74.60 L272.64 74.19 L274.31 73.79 L275.99 73.40 L277.67 73.02 L279.34 72.66 L281.02 72.30 L282.69 71.96 L284.37 71.62 L286.05 71.30 L287.72 70.99 L289.40 70.68 L291.08 70.39 L292.75 70.10 L294.43 69.83 L296.10 69.56 L297.78 69.30 L299.46 69.05 L301.13 68.80 L302.81 68.57 L304.49 68.34 L306.16 68.12 L307.84 67.90 L309.51 67.69 L311.19 67.49 L312.87 67.30 L314.54 67.11 L316.22 66.93 L317.90 66.75 L319.57 66.58 L321.25 66.41 L322.92 66.25 L324.60 66.09 L324.60 5.84 L58.08 5.84 Z" fill="none" stroke="#EB6235" stroke-width="1.8" stroke-linejoin="miter"/>
<rect x="52.5" y="0.9" width="277.8" height="277.1" fill="none" stroke="#000" stroke-width="0.85"/>
<path d="M58.50 278.00 v-2.20 M58.50 0.90 v2.20 M69.50 278.00 v-2.20 M69.50 0.90 v2.20 M80.50 278.00 v-2.20 M80.50 0.90 v2.20 M91.50 278.00 v-2.20 M91.50 0.90 v2.20 M102.50 278.00 v-3.80 M102.50 0.90 v3.80 M113.50 278.00 v-2.20 M113.50 0.90 v2.20 M124.50 278.00 v-2.20 M124.50 0.90 v2.20 M135.50 278.00 v-2.20 M135.50 0.90 v2.20 M146.50 278.00 v-2.20 M146.50 0.90 v2.20 M158.50 278.00 v-3.80 M158.50 0.90 v3.80 M169.50 278.00 v-2.20 M169.50 0.90 v2.20 M180.50 278.00 v-2.20 M180.50 0.90 v2.20 M191.50 278.00 v-2.20 M191.50 0.90 v2.20 M202.50 278.00 v-2.20 M202.50 0.90 v2.20 M213.50 278.00 v-3.80 M213.50 0.90 v3.80 M224.50 278.00 v-2.20 M224.50 0.90 v2.20 M235.50 278.00 v-2.20 M235.50 0.90 v2.20 M246.50 278.00 v-2.20 M246.50 0.90 v2.20 M257.50 278.00 v-2.20 M257.50 0.90 v2.20 M269.50 278.00 v-3.80 M269.50 0.90 v3.80 M280.50 278.00 v-2.20 M280.50 0.90 v2.20 M291.50 278.00 v-2.20 M291.50 0.90 v2.20 M302.50 278.00 v-2.20 M302.50 0.90 v2.20 M313.50 278.00 v-2.20 M313.50 0.90 v2.20 M324.50 278.00 v-3.80 M324.50 0.90 v3.80 M52.50 272.50 h3.80 M330.30 272.50 h-3.80 M52.50 255.50 h2.20 M330.30 255.50 h-2.20 M52.50 239.50 h2.20 M330.30 239.50 h-2.20 M52.50 222.50 h2.20 M330.30 222.50 h-2.20 M52.50 205.50 h2.20 M330.30 205.50 h-2.20 M52.50 189.50 h3.80 M330.30 189.50 h-3.80 M52.50 172.50 h2.20 M330.30 172.50 h-2.20 M52.50 155.50 h2.20 M330.30 155.50 h-2.20 M52.50 139.50 h2.20 M330.30 139.50 h-2.20 M52.50 122.50 h2.20 M330.30 122.50 h-2.20 M52.50 105.50 h3.80 M330.30 105.50 h-3.80 M52.50 89.50 h2.20 M330.30 89.50 h-2.20 M52.50 72.50 h2.20 M330.30 72.50 h-2.20 M52.50 55.50 h2.20 M330.30 55.50 h-2.20 M52.50 39.50 h2.20 M330.30 39.50 h-2.20 M52.50 22.50 h3.80 M330.30 22.50 h-3.80 M52.50 5.50 h2.20 M330.30 5.50 h-2.20" stroke="#000" stroke-width="0.8" fill="none"/>
<g font-size="16" fill="#000"><text x="102.50" y="296.7" text-anchor="middle">1.0</text><text x="158.03" y="296.7" text-anchor="middle">1.5</text><text x="213.55" y="296.7" text-anchor="middle">2.0</text><text x="269.07" y="296.7" text-anchor="middle">2.5</text><text x="324.60" y="296.7" text-anchor="middle">3.0</text><text x="48.7" y="278.15" text-anchor="end">1.0</text><text x="48.7" y="194.85" text-anchor="end">1.5</text><text x="48.7" y="111.55" text-anchor="end">2.0</text><text x="48.7" y="28.25" text-anchor="end">2.5</text>
<text y="321.4" font-size="16.3" letter-spacing="0.4"><tspan x="139.1">Log (</tspan><tspan font-style="italic">m</tspan><tspan x="190.9" font-size="12.5" dy="4" font-style="italic">χ</tspan><tspan x="199" dy="-4">/GeV)</tspan></text>
<text transform="translate(16,141.1) rotate(-90)" text-anchor="middle" font-size="16.3" letter-spacing="0.4">Log (<tspan font-style="italic">δ</tspan>/keV)</text>
</g>
</svg>
</body></html>
